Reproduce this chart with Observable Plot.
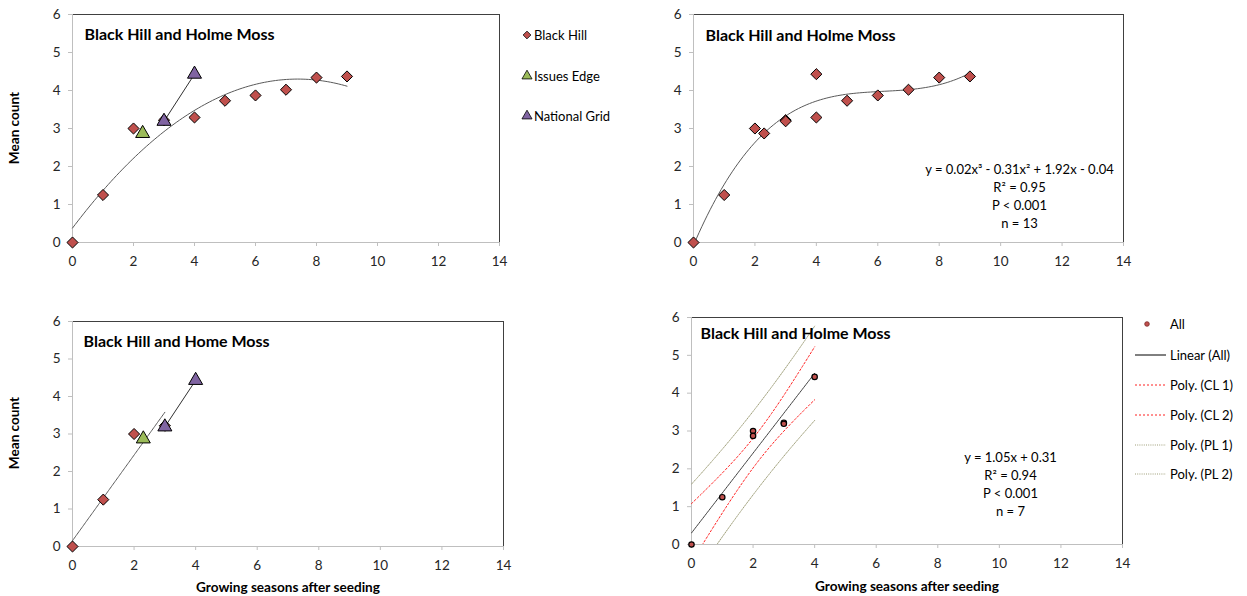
<!DOCTYPE html>
<html><head><meta charset="utf-8">
<script src="https://cdn.jsdelivr.net/npm/d3@7"></script>
<script src="https://cdn.jsdelivr.net/npm/@observablehq/plot@0.6"></script>
<style>
body{margin:0;background:#fff;font-family:Lato,"Open Sans",sans-serif;}
#root{position:relative;width:1247px;height:596px;overflow:hidden;background:#fff}
.panel{position:absolute}
.axt{position:absolute;font-weight:bold;font-size:13.6px;color:#000;white-space:nowrap;transform:translate(-50%,-50%)}
.axt.rot{transform:translate(-50%,-50%) rotate(-90deg)}
.legend{position:absolute}
</style></head><body><div id="root"></div>
<script>
// ---------- data ----------
const xTicks = [0, 2, 4, 6, 8, 10, 12, 14];
const yTicks = [0, 1, 2, 3, 4, 5, 6];
const blackHillX = [0, 1, 2, 3, 4, 5, 6, 7, 8, 9];
const blackHillY = [0, 1.25, 3.0, 3.22, 3.29, 3.73, 3.87, 4.02, 4.34, 4.37];
const issuesEdgeX = [2.3];
const issuesEdgeY = [2.87];
const nationalGridX = [3, 4];
const nationalGridY = [3.19, 4.43];
const earlyBlackHillX = [0, 1, 2, 3];
const earlyBlackHillY = [0, 1.25, 3.0, 3.22];
const allX = [0, 1, 2, 2, 3, 3, 4];
const allY = [0, 1.25, 3.0, 2.87, 3.22, 3.19, 4.43];
const tCrit = 2.571; // t(0.975, df = 5)
const titles = ["Black Hill and Holme Moss", "Black Hill and Holme Moss", "Black Hill and Home Moss", "Black Hill and Holme Moss"];
const stats2 = ["y = 0.02x³ - 0.31x² + 1.92x - 0.04", "R² = 0.95", "P < 0.001", "n = 13"];
const stats4 = ["y = 1.05x + 0.31", "R² = 0.94", "P < 0.001", "n = 7"];
const legend1 = ["Black Hill", "Issues Edge", "National Grid"];
const legend4 = ["All", "Linear (All)", "Poly. (CL 1)", "Poly. (CL 2)", "Poly. (PL 1)", "Poly. (PL 2)"];
const yTitle = "Mean count";
const xTitle = "Growing seasons after seeding";

// ---------- styles ----------
const RED = "#c0504d", GREEN = "#9bbb59", PURPLE = "#8064a2";
const TREND = "#5a5a5a";
const FONT = "Lato, 'Open Sans', sans-serif";
const TICKFS = 13.5, TEXTFS = 13;

// ---------- helpers ----------
const zip = (xs, ys) => xs.map((x, i) => ({x, y: ys[i]}));
function polyfit(xs, ys, deg) {
  const n = deg + 1;
  const A = Array.from({length: n}, () => Array(n + 1).fill(0));
  for (let i = 0; i < n; i++) {
    for (let j = 0; j < n; j++) A[i][j] = d3.sum(xs, x => Math.pow(x, i + j));
    A[i][n] = d3.sum(xs, (x, k) => ys[k] * Math.pow(x, i));
  }
  for (let c = 0; c < n; c++) {
    let p = c;
    for (let r = c + 1; r < n; r++) if (Math.abs(A[r][c]) > Math.abs(A[p][c])) p = r;
    [A[c], A[p]] = [A[p], A[c]];
    for (let r = 0; r < n; r++) {
      if (r === c) continue;
      const f = A[r][c] / A[c][c];
      for (let k = c; k <= n; k++) A[r][k] -= f * A[c][k];
    }
  }
  return A.map((row, i) => row[n] / row[i]);
}
const polyval = (c, x) => c.reduce((s, a, i) => s + a * Math.pow(x, i), 0);
const curve = (fn, x0, x1) => d3.range(0, 101).map(i => { const x = x0 + (x1 - x0) * i / 100; return {x, y: fn(x)}; });

const blackHill = zip(blackHillX, blackHillY);
const issuesEdge = zip(issuesEdgeX, issuesEdgeY);
const nationalGrid = zip(nationalGridX, nationalGridY);
const combinedX = [...blackHillX, ...issuesEdgeX, ...nationalGridX];
const combinedY = [...blackHillY, ...issuesEdgeY, ...nationalGridY];
const combined = zip(combinedX, combinedY);
const earlyBlackHill = zip(earlyBlackHillX, earlyBlackHillY);
const all = zip(allX, allY);

// fits
const quad1 = polyfit(blackHillX, blackHillY, 2);
const cubic2 = polyfit(combinedX, combinedY, 3);
const lin3 = polyfit(earlyBlackHillX, earlyBlackHillY, 1);
const lin4 = polyfit(allX, allY, 1);
const n4 = allX.length, mx4 = d3.mean(allX);
const sxx4 = d3.sum(allX, x => (x - mx4) ** 2);
const s4 = Math.sqrt(d3.sum(allX, (x, i) => (allY[i] - polyval(lin4, x)) ** 2) / (n4 - 2));
const ci = x => tCrit * s4 * Math.sqrt(1 / n4 + (x - mx4) ** 2 / sxx4);
const pi = x => tCrit * s4 * Math.sqrt(1 + 1 / n4 + (x - mx4) ** 2 / sxx4);
const x4min = d3.min(allX), x4max = d3.max(allX);

// ---------- panels ----------
function panel({left, top, width, height, mL, mR, mT, mB, title, titleDx, titleDy, marks}) {
  const chart = Plot.plot({
    width, height, marginLeft: mL, marginRight: mR, marginTop: mT, marginBottom: mB,
    x: {domain: [0, 14]},
    y: {domain: [0, 6]},
    style: {fontFamily: FONT, fontSize: TICKFS + "px", color: "#262626", background: "transparent", overflow: "visible"},
    marks: [
      Plot.frame({stroke: "#404040"}),
      Plot.ruleX([0], {stroke: "#bfbfbf"}),
      Plot.ruleY([0], {stroke: "#bfbfbf"}),
      Plot.axisX({ticks: xTicks, tickFormat: d => String(d), tickSize: 4, tickPadding: 10, stroke: "#bfbfbf", fill: "#262626", label: null, fontSize: TICKFS}),
      Plot.axisY({ticks: yTicks, tickFormat: d => String(d), tickSize: 4, tickPadding: 8, stroke: "#bfbfbf", fill: "#262626", label: null, fontSize: TICKFS}),
      ...marks,
      Plot.text([title], {text: d => d, frameAnchor: "top-left", dx: titleDx, dy: titleDy, textAnchor: "start", lineAnchor: "middle", fontWeight: "bold", fontSize: 16, fill: "#000"})
    ]
  });
  const div = document.createElement("div");
  div.className = "panel";
  div.style.left = left + "px";
  div.style.top = top + "px";
  div.appendChild(chart);
  document.getElementById("root").appendChild(div);
}

const diamond = (data, fill) => Plot.dot(data, {x: "x", y: "y", symbol: "diamond2", r: 5, fill, stroke: "#000", strokeWidth: 1});
const triangle = (data, fill) => Plot.dot(data, {x: "x", y: "y", symbol: "triangle", r: 5.2, fill, stroke: "#000", strokeWidth: 1});

// Panel 1
panel({left: 0, top: 0, width: 520, height: 290, mL: 72, mR: 21, mT: 14, mB: 48,
  title: titles[0], titleDx: 12, titleDy: 20,
  marks: [
    Plot.line(curve(x => polyval(quad1, x), d3.min(blackHillX), d3.max(blackHillX)), {x: "x", y: "y", stroke: TREND, strokeWidth: 1}),
    Plot.line(nationalGrid, {x: "x", y: "y", stroke: "#303030", strokeWidth: 1}),
    diamond(blackHill, RED),
    triangle(issuesEdge, GREEN),
    triangle(nationalGrid, PURPLE)
  ]});

// Panel 2
panel({left: 620, top: 0, width: 520, height: 290, mL: 73, mR: 17, mT: 14, mB: 48,
  title: titles[1], titleDx: 12, titleDy: 21,
  marks: [
    Plot.line(curve(x => polyval(cubic2, x), d3.min(combinedX), d3.max(combinedX)), {x: "x", y: "y", stroke: TREND, strokeWidth: 1}),
    diamond(combined, RED),
    Plot.text([stats2.join("\n")], {text: d => d, frameAnchor: "top-left", dx: 326, dy: 147, textAnchor: "middle", lineAnchor: "top", lineHeight: 1.38, fontSize: TEXTFS, fill: "#000"})
  ]});

// Panel 3
panel({left: 0, top: 300, width: 520, height: 290, mL: 72, mR: 17, mT: 21, mB: 44,
  title: titles[2], titleDx: 11, titleDy: 20,
  marks: [
    Plot.line(curve(x => polyval(lin3, x), d3.min(earlyBlackHillX), d3.max(earlyBlackHillX)), {x: "x", y: "y", stroke: TREND, strokeWidth: 1}),
    Plot.line(nationalGrid, {x: "x", y: "y", stroke: "#303030", strokeWidth: 1}),
    diamond(earlyBlackHill, RED),
    triangle(issuesEdge, GREEN),
    triangle(nationalGrid, PURPLE)
  ]});

// Panel 4
const CLR = "#ff2020", PLC = "#9e9e78";
const PLDASH = "1,1.2";
panel({left: 620, top: 300, width: 520, height: 290, mL: 71, mR: 18, mT: 17, mB: 46,
  title: titles[3], titleDx: 9, titleDy: 16,
  marks: [
    Plot.line(curve(x => polyval(lin4, x) + pi(x), x4min, x4max), {x: "x", y: "y", stroke: PLC, strokeWidth: 1, strokeDasharray: PLDASH, clip: true}),
    Plot.line(curve(x => polyval(lin4, x) + ci(x), x4min, x4max), {x: "x", y: "y", stroke: CLR, strokeWidth: 1, strokeDasharray: "2,2", clip: true}),
    Plot.line(curve(x => polyval(lin4, x), x4min, x4max), {x: "x", y: "y", stroke: "#404040", strokeWidth: 1, clip: true}),
    Plot.line(curve(x => polyval(lin4, x) - ci(x), x4min, x4max), {x: "x", y: "y", stroke: CLR, strokeWidth: 1, strokeDasharray: "2,2", clip: true}),
    Plot.line(curve(x => polyval(lin4, x) - pi(x), x4min, x4max), {x: "x", y: "y", stroke: PLC, strokeWidth: 1, strokeDasharray: PLDASH, clip: true}),
    Plot.dot(all, {x: "x", y: "y", r: 2.7, fill: RED, stroke: "#000", strokeWidth: 1.2}),
    Plot.text([stats4.join("\n")], {text: d => d, frameAnchor: "top-left", dx: 319, dy: 132, textAnchor: "middle", lineAnchor: "top", lineHeight: 1.38, fontSize: TEXTFS, fill: "#000"})
  ]});

// ---------- axis titles ----------
function addTitle(text, x, y, rot) {
  const d = document.createElement("div");
  d.className = "axt" + (rot ? " rot" : "");
  d.style.left = x + "px"; d.style.top = y + "px";
  d.textContent = text;
  document.getElementById("root").appendChild(d);
}
addTitle(yTitle, 14, 128, true);
addTitle(yTitle, 14, 433, true);
addTitle(xTitle, 288, 587, false);
addTitle(xTitle, 907, 586, false);

// ---------- legends ----------
{
  const svg = d3.select("#root").append("svg").attr("class", "legend")
    .style("left", "515px").style("top", "15px").attr("width", 125).attr("height", 120)
    .style("font-family", FONT).style("font-size", TEXTFS + "px");
  const syms = [d3.symbolDiamond2, d3.symbolTriangle, d3.symbolTriangle];
  const fills = [RED, GREEN, PURPLE];
  const ys = [20, 61, 101];
  legend1.forEach((t, i) => {
    svg.append("path").attr("d", d3.symbol(syms[i], i === 0 ? 38 : 44)()).attr("transform", `translate(12,${ys[i]})`)
      .attr("fill", fills[i]).attr("stroke", "#000").attr("stroke-width", 0.8);
    svg.append("text").attr("x", 19).attr("y", ys[i]).attr("dy", "0.35em").attr("fill", "#000").text(t);
  });
}
{
  const svg = d3.select("#root").append("svg").attr("class", "legend")
    .style("left", "1130px").style("top", "310px").attr("width", 117).attr("height", 180)
    .style("font-family", FONT).style("font-size", TEXTFS + "px");
  const ys = [14, 45, 75, 105, 135, 164];
  svg.append("circle").attr("cx", 17).attr("cy", ys[0]).attr("r", 2.3).attr("fill", RED).attr("stroke", "#7a2a28").attr("stroke-width", 0.8);
  const strokes = [null, "#000", CLR, CLR, PLC, PLC];
  const dashes = [null, null, "2,2", "2,2", PLDASH, PLDASH];
  legend4.forEach((t, i) => {
    if (i > 0) svg.append("line").attr("x1", 5).attr("x2", 36).attr("y1", ys[i]).attr("y2", ys[i])
      .attr("stroke", strokes[i]).attr("stroke-width", 1).attr("stroke-dasharray", dashes[i]);
    svg.append("text").attr("x", 40).attr("y", ys[i]).attr("dy", "0.35em").attr("fill", "#000").text(t);
  });
}
</script></body></html>
